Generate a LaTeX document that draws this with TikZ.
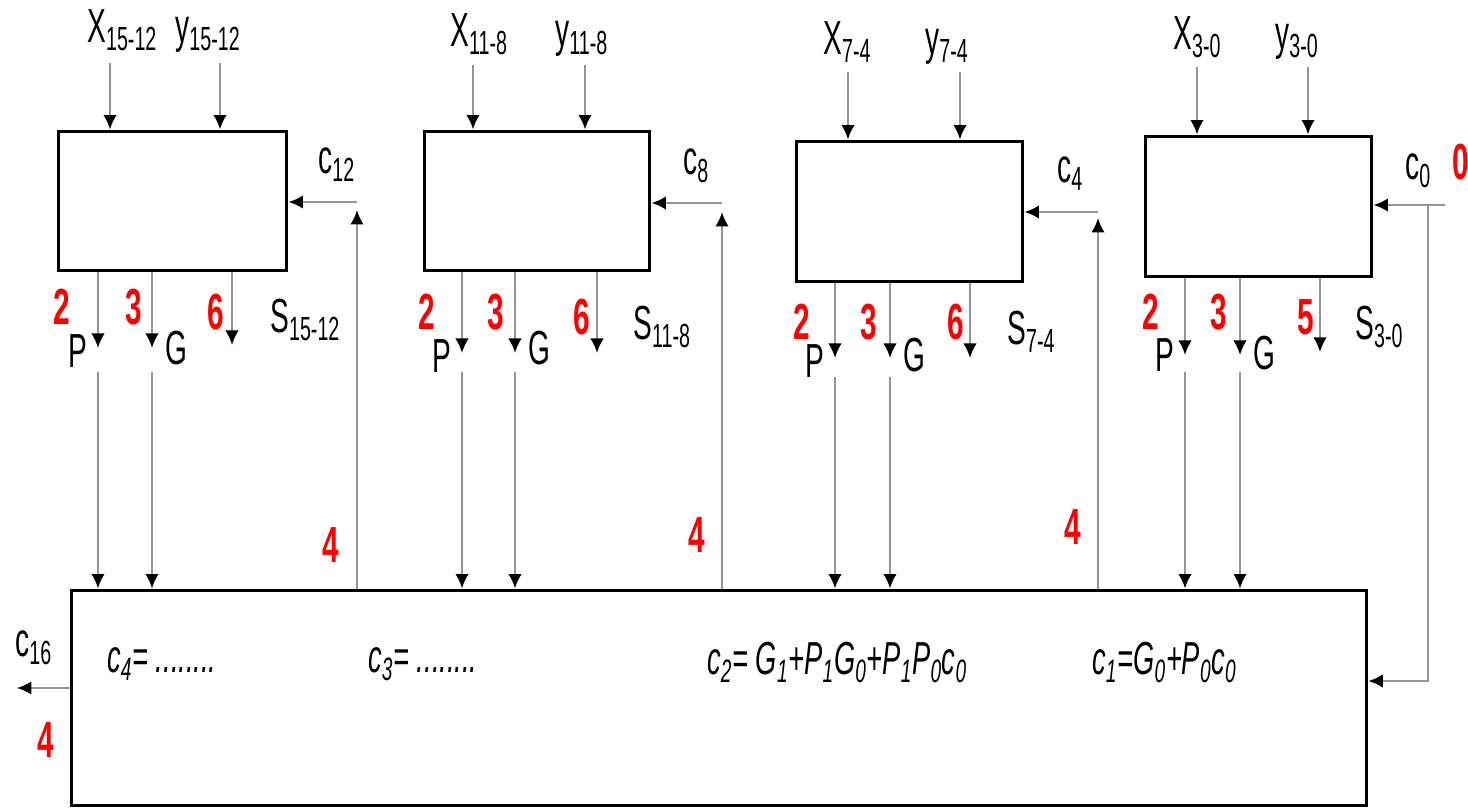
\documentclass[tikz,border=0pt]{standalone}
\usepackage{fontspec}
\setmainfont{Liberation Sans}
\usepackage{graphicx}
\usetikzlibrary{arrows.meta,positioning,calc}
\definecolor{wiregray}{gray}{0.58}
\newcommand{\vst}[1]{\scalebox{1}[1.7]{#1}}

\begin{document}
\begin{tikzpicture}[x=0.02cm, y=-0.02cm, >={Latex[length=2.9mm,width=2.7mm,color=black]},
  blk/.style={draw, rectangle, line width=1.7pt, inner sep=0pt},
  wire/.style={draw=wiregray, line width=1.3pt},
  lbl/.style={inner sep=0pt, anchor=base west, font=\fontsize{16}{16}\selectfont},
  num/.style={lbl, text=red, font=\fontsize{17}{17}\selectfont\bfseries},
  eqn/.style={lbl, font=\fontsize{15.5}{16}\selectfont\itshape}]
    \useasboundingbox (0,0) rectangle (1468,810);

    % 4-bit adder blocks and carry unit
    \node[blk, minimum width=4.58cm, minimum height=2.8cm] (cla3) at (172.5,201) {};
    \node[blk, minimum width=4.52cm, minimum height=2.8cm] (cla2) at (537,201) {};
    \node[blk, minimum width=4.54cm, minimum height=2.82cm] (cla1) at (909.5,211.5) {};
    \node[blk, minimum width=4.54cm, minimum height=2.82cm] (cla0) at (1258.5,206.5) {};
    \node[blk, minimum width=25.92cm, minimum height=4.32cm] (lcu) at (719,698) {};

    % operand inputs
    \node[lbl] (x3) at (87,43) {\vst{X\textsubscript{15-12}}};
    \node[lbl] (y3) at (175,43) {\vst{y\textsubscript{15-12}}};
    \node[lbl] (x2) at (450,47) {\vst{X\textsubscript{11-8}}};
    \node[lbl] (y2) at (555,47) {\vst{y\textsubscript{11-8}}};
    \node[lbl] (x1) at (823,55) {\vst{X\textsubscript{7-4}}};
    \node[lbl] (y1) at (925,55) {\vst{y\textsubscript{7-4}}};
    \node[lbl] (x0) at (1173,50) {\vst{X\textsubscript{3-0}}};
    \node[lbl] (y0) at (1275,50) {\vst{y\textsubscript{3-0}}};

    \coordinate (xi3) at (110,63); \coordinate (yi3) at (220,63);
    \coordinate (xi2) at (473,65); \coordinate (yi2) at (585,65);
    \coordinate (xi1) at (848,72); \coordinate (yi1) at (960,72);
    \coordinate (xi0) at (1197,67); \coordinate (yi0) at (1308,67);
    \draw[wire,->] (xi3) -- (xi3 |- cla3.north); \draw[wire,->] (yi3) -- (yi3 |- cla3.north);
    \draw[wire,->] (xi2) -- (xi2 |- cla2.north); \draw[wire,->] (yi2) -- (yi2 |- cla2.north);
    \draw[wire,->] (xi1) -- (xi1 |- cla1.north); \draw[wire,->] (yi1) -- (yi1 |- cla1.north);
    \draw[wire,->] (xi0) -- (xi0 |- cla0.north); \draw[wire,->] (yi0) -- (yi0 |- cla0.north);

    % P, G and sum outputs
    \coordinate (p3) at (98,348); \coordinate (g3) at (152,348); \coordinate (s3) at (232,345);
    \coordinate (p2) at (462,353); \coordinate (g2) at (515,353); \coordinate (s2) at (597,353);
    \coordinate (p1) at (835,358); \coordinate (g1) at (890,358); \coordinate (s1) at (970,358);
    \coordinate (p0) at (1185,355); \coordinate (g0) at (1240,355); \coordinate (s0) at (1320,352);
    \draw[wire,->] (p3 |- cla3.south) -- (p3); \draw[wire,->] (g3 |- cla3.south) -- (g3); \draw[wire,->] (s3 |- cla3.south) -- (s3);
    \draw[wire,->] (p2 |- cla2.south) -- (p2); \draw[wire,->] (g2 |- cla2.south) -- (g2); \draw[wire,->] (s2 |- cla2.south) -- (s2);
    \draw[wire,->] (p1 |- cla1.south) -- (p1); \draw[wire,->] (g1 |- cla1.south) -- (g1); \draw[wire,->] (s1 |- cla1.south) -- (s1);
    \draw[wire,->] (p0 |- cla0.south) -- (p0); \draw[wire,->] (g0 |- cla0.south) -- (g0); \draw[wire,->] (s0 |- cla0.south) -- (s0);

    \coordinate (p3b) at (98,372); \coordinate (g3b) at (152,372);
    \coordinate (p2b) at (462,372); \coordinate (g2b) at (515,372);
    \coordinate (p1b) at (835,377); \coordinate (g1b) at (890,377);
    \coordinate (p0b) at (1185,372); \coordinate (g0b) at (1240,372);
    \draw[wire,->] (p3b) -- (p3b |- lcu.north); \draw[wire,->] (g3b) -- (g3b |- lcu.north);
    \draw[wire,->] (p2b) -- (p2b |- lcu.north); \draw[wire,->] (g2b) -- (g2b |- lcu.north);
    \draw[wire,->] (p1b) -- (p1b |- lcu.north); \draw[wire,->] (g1b) -- (g1b |- lcu.north);
    \draw[wire,->] (p0b) -- (p0b |- lcu.north); \draw[wire,->] (g0b) -- (g0b |- lcu.north);

    \node[num] at (53,325) {\vst{2}}; \node[num] at (125,325) {\vst{3}}; \node[num] at (207,330) {\vst{6}};
    \node[num] at (418,330) {\vst{2}}; \node[num] at (487,330) {\vst{3}}; \node[num] at (573,335) {\vst{6}};
    \node[num] at (793,340) {\vst{2}}; \node[num] at (860,340) {\vst{3}}; \node[num] at (947,340) {\vst{6}};
    \node[num] at (1142,330) {\vst{2}}; \node[num] at (1210,330) {\vst{3}}; \node[num] at (1297,335) {\vst{5}};

    \node[lbl] at (68,368) {\vst{P}}; \node[lbl] at (165,365) {\vst{G}};
    \node[lbl] at (432,373) {\vst{P}}; \node[lbl] at (528,365) {\vst{G}};
    \node[lbl] at (805,378) {\vst{P}}; \node[lbl] at (903,372) {\vst{G}};
    \node[lbl] at (1155,372) {\vst{P}}; \node[lbl] at (1253,370) {\vst{G}};
    \node[lbl] at (270,333) {\vst{S\textsubscript{15-12}}};
    \node[lbl] at (633,340) {\vst{S\textsubscript{11-8}}};
    \node[lbl] at (1007,345) {\vst{S\textsubscript{7-4}}};
    \node[lbl] at (1355,340) {\vst{S\textsubscript{3-0}}};

    % carries from the lookahead unit
    \coordinate (k12) at (357,202); \coordinate (k12t) at (357,210);
    \coordinate (k8) at (722,203); \coordinate (k8t) at (722,212);
    \coordinate (k4) at (1098,212); \coordinate (k4t) at (1098,218);
    \draw[wire,->] (k12t |- lcu.north) -- (k12t); \draw[wire,->] (k12) -- (k12 -| cla3.east);
    \draw[wire,->] (k8t |- lcu.north) -- (k8t); \draw[wire,->] (k8) -- (k8 -| cla2.east);
    \draw[wire,->] (k4t |- lcu.north) -- (k4t); \draw[wire,->] (k4) -- (k4 -| cla1.east);

    \coordinate (k0) at (1445,205); \coordinate (k0d) at (1428,681);
    \draw[wire,->] (k0) -- (k0 -| cla0.east);
    \draw[wire,->] (k0d |- k0) -- (k0d) -- (k0d -| lcu.east);
    \coordinate (k16) at (17,688);
    \draw[wire,->] (k16 -| lcu.west) -- (k16);

    \node[lbl] at (318,174) {\vst{c\textsubscript{12}}};
    \node[lbl] at (683,175) {\vst{c\textsubscript{8}}};
    \node[lbl] at (1057,183) {\vst{c\textsubscript{4}}};
    \node[lbl] at (1405,180) {\vst{c\textsubscript{0}}};
    \node[num] at (1452,180) {\vst{0}};
    \node[lbl] at (15,657) {\vst{c\textsubscript{16}}};

    \node[num] at (322,563) {\vst{4}};
    \node[num] at (688,553) {\vst{4}};
    \node[num] at (1064,545) {\vst{4}};
    \node[num] at (37,758) {\vst{4}};

    % carry equations
    \node[eqn] at (107,673) {\vst{c\textsubscript{4}= ........}};
    \node[eqn] at (368,673) {\vst{c\textsubscript{3}= ........}};
    \node[eqn] at (707,675) {\vst{c\textsubscript{2}= G\textsubscript{1}+P\textsubscript{1}G\textsubscript{0}+P\textsubscript{1}P\textsubscript{0}c\textsubscript{0}}};
    \node[eqn] at (1092,675) {\vst{c\textsubscript{1}=G\textsubscript{0}+P\textsubscript{0}c\textsubscript{0}}};
\end{tikzpicture}
\end{document}
